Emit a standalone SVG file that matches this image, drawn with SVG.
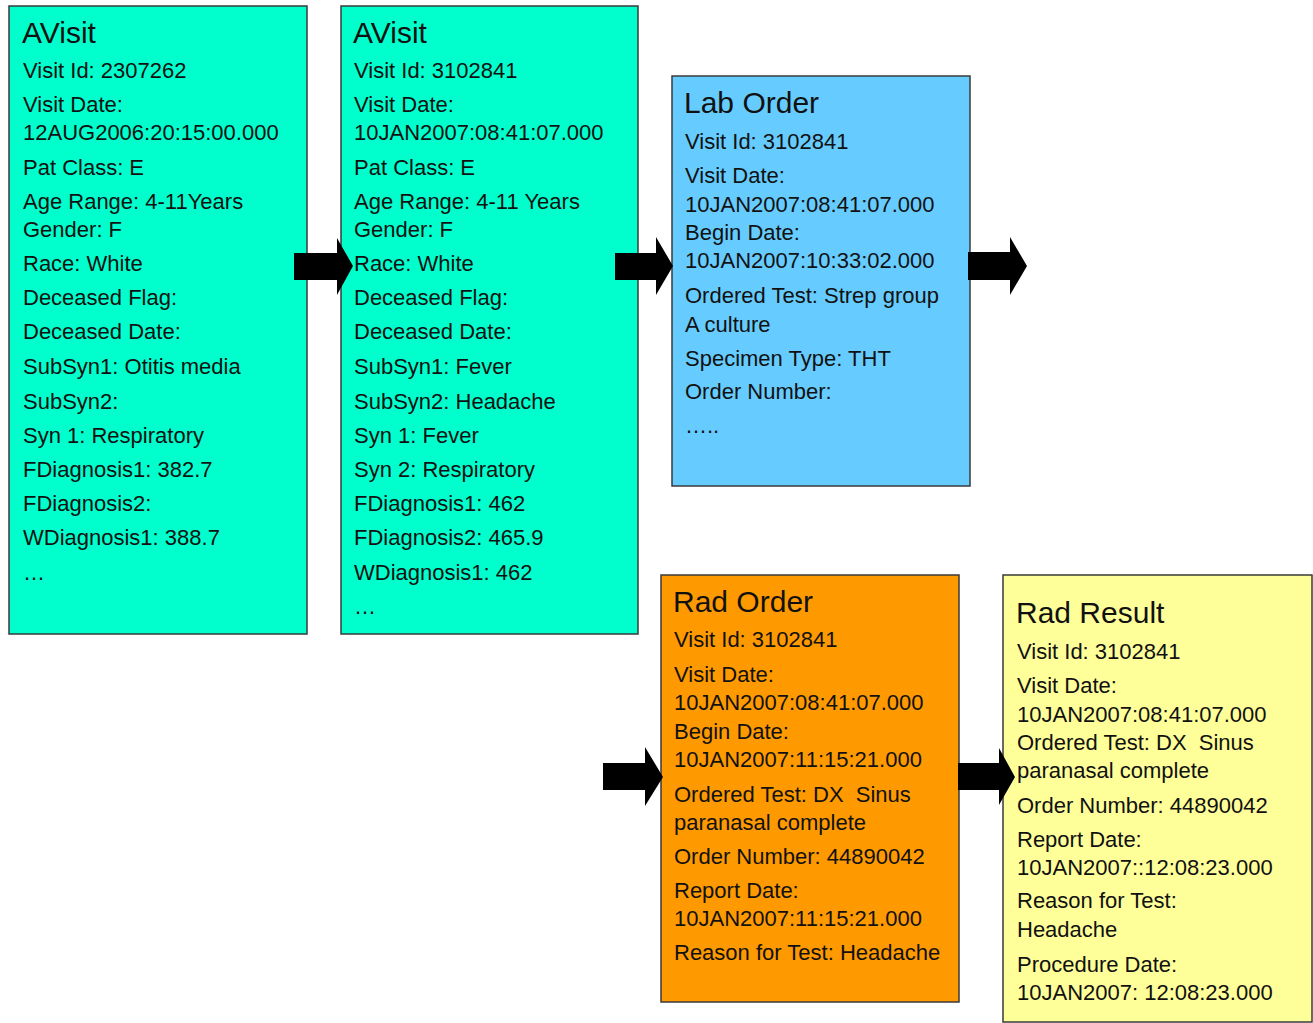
<svg xmlns="http://www.w3.org/2000/svg" width="1313" height="1023" viewBox="0 0 1313 1023">
<style>
.box{stroke:#3a3a3a;stroke-width:1.5}
.t{font-family:"Liberation Sans",Arial,sans-serif;font-size:22px;fill:#111}
.h{font-family:"Liberation Sans",Arial,sans-serif;font-size:30px;fill:#111}
.arr{fill:#000}
</style>
<rect width="1313" height="1023" fill="#fff"/>
<g id="avisit1">
<rect class="box" x="9" y="6" width="298" height="628" fill="#00FFCC"/>
<text class="h" x="22" y="43">AVisit</text>
<text class="t" x="23" y="78">Visit Id: 2307262</text>
<text class="t" x="23" y="112">Visit Date:</text>
<text class="t" x="23" y="140">12AUG2006:20:15:00.000</text>
<text class="t" x="23" y="175">Pat Class: E</text>
<text class="t" x="23" y="209">Age Range: 4-11Years</text>
<text class="t" x="23" y="237">Gender: F</text>
<text class="t" x="23" y="271">Race: White</text>
<text class="t" x="23" y="305">Deceased Flag:</text>
<text class="t" x="23" y="339">Deceased Date:</text>
<text class="t" x="23" y="374">SubSyn1: Otitis media</text>
<text class="t" x="23" y="409">SubSyn2:</text>
<text class="t" x="23" y="443">Syn 1: Respiratory</text>
<text class="t" x="23" y="477">FDiagnosis1: 382.7</text>
<text class="t" x="23" y="511">FDiagnosis2:</text>
<text class="t" x="23" y="545">WDiagnosis1: 388.7</text>
<text class="t" x="23" y="580">…</text>
</g>
<g id="avisit2">
<rect class="box" x="341" y="6" width="297" height="628" fill="#00FFCC"/>
<text class="h" x="353" y="43">AVisit</text>
<text class="t" x="354" y="78">Visit Id: 3102841</text>
<text class="t" x="354" y="112">Visit Date:</text>
<text class="t" x="354" y="140">10JAN2007:08:41:07.000</text>
<text class="t" x="354" y="175">Pat Class: E</text>
<text class="t" x="354" y="209">Age Range: 4-11 Years</text>
<text class="t" x="354" y="237">Gender: F</text>
<text class="t" x="354" y="271">Race: White</text>
<text class="t" x="354" y="305">Deceased Flag:</text>
<text class="t" x="354" y="339">Deceased Date:</text>
<text class="t" x="354" y="374">SubSyn1: Fever</text>
<text class="t" x="354" y="409">SubSyn2: Headache</text>
<text class="t" x="354" y="443">Syn 1: Fever</text>
<text class="t" x="354" y="477">Syn 2: Respiratory</text>
<text class="t" x="354" y="511">FDiagnosis1: 462</text>
<text class="t" x="354" y="545">FDiagnosis2: 465.9</text>
<text class="t" x="354" y="580">WDiagnosis1: 462</text>
<text class="t" x="354" y="614">…</text>
</g>
<g id="laborder">
<rect class="box" x="672" y="76" width="298" height="410" fill="#66CCFF"/>
<text class="h" x="684" y="113">Lab Order</text>
<text class="t" x="685" y="149">Visit Id: 3102841</text>
<text class="t" x="685" y="183">Visit Date:</text>
<text class="t" x="685" y="212">10JAN2007:08:41:07.000</text>
<text class="t" x="685" y="240">Begin Date:</text>
<text class="t" x="685" y="268">10JAN2007:10:33:02.000</text>
<text class="t" x="685" y="303">Ordered Test: Strep group</text>
<text class="t" x="685" y="332">A culture</text>
<text class="t" x="685" y="366">Specimen Type: THT</text>
<text class="t" x="685" y="399">Order Number:</text>
<text class="t" x="685" y="433">…..</text>
</g>
<g id="radorder">
<rect class="box" x="661" y="575" width="298" height="427" fill="#FF9900"/>
<text class="h" x="673" y="612">Rad Order</text>
<text class="t" x="674" y="647">Visit Id: 3102841</text>
<text class="t" x="674" y="682">Visit Date:</text>
<text class="t" x="674" y="710">10JAN2007:08:41:07.000</text>
<text class="t" x="674" y="739">Begin Date:</text>
<text class="t" x="674" y="767">10JAN2007:11:15:21.000</text>
<text class="t" x="674" y="802">Ordered Test: DX&#160; Sinus</text>
<text class="t" x="674" y="830">paranasal complete</text>
<text class="t" x="674" y="864">Order Number: 44890042</text>
<text class="t" x="674" y="898">Report Date:</text>
<text class="t" x="674" y="926">10JAN2007:11:15:21.000</text>
<text class="t" x="674" y="960">Reason for Test: Headache</text>
</g>
<g id="radresult">
<rect class="box" x="1003" y="575" width="309" height="447" fill="#FFFF99"/>
<text class="h" x="1016" y="623">Rad Result</text>
<text class="t" x="1017" y="659">Visit Id: 3102841</text>
<text class="t" x="1017" y="693">Visit Date:</text>
<text class="t" x="1017" y="722">10JAN2007:08:41:07.000</text>
<text class="t" x="1017" y="750">Ordered Test: DX&#160; Sinus</text>
<text class="t" x="1017" y="778">paranasal complete</text>
<text class="t" x="1017" y="813">Order Number: 44890042</text>
<text class="t" x="1017" y="847">Report Date:</text>
<text class="t" x="1017" y="875">10JAN2007::12:08:23.000</text>
<text class="t" x="1017" y="908">Reason for Test:</text>
<text class="t" x="1017" y="937">Headache</text>
<text class="t" x="1017" y="972">Procedure Date:</text>
<text class="t" x="1017" y="1000">10JAN2007: 12:08:23.000</text>
</g>
<g id="connectors">
<polygon class="arr" points="294,253 337,253 337,238 353,266 337,295 337,280 294,280"/>
<polygon class="arr" points="615,253 656,253 656,237 673,266 656,295 656,280 615,280"/>
<polygon class="arr" points="968,252 1010,252 1010,237 1027,266 1010,295 1010,280 968,280"/>
<polygon class="arr" points="603,763 645,763 645,747 663,777 645,806 645,790 603,790"/>
<polygon class="arr" points="958,763 999,763 999,748 1015,777 999,805 999,790 958,790"/>
</g>
</svg>
